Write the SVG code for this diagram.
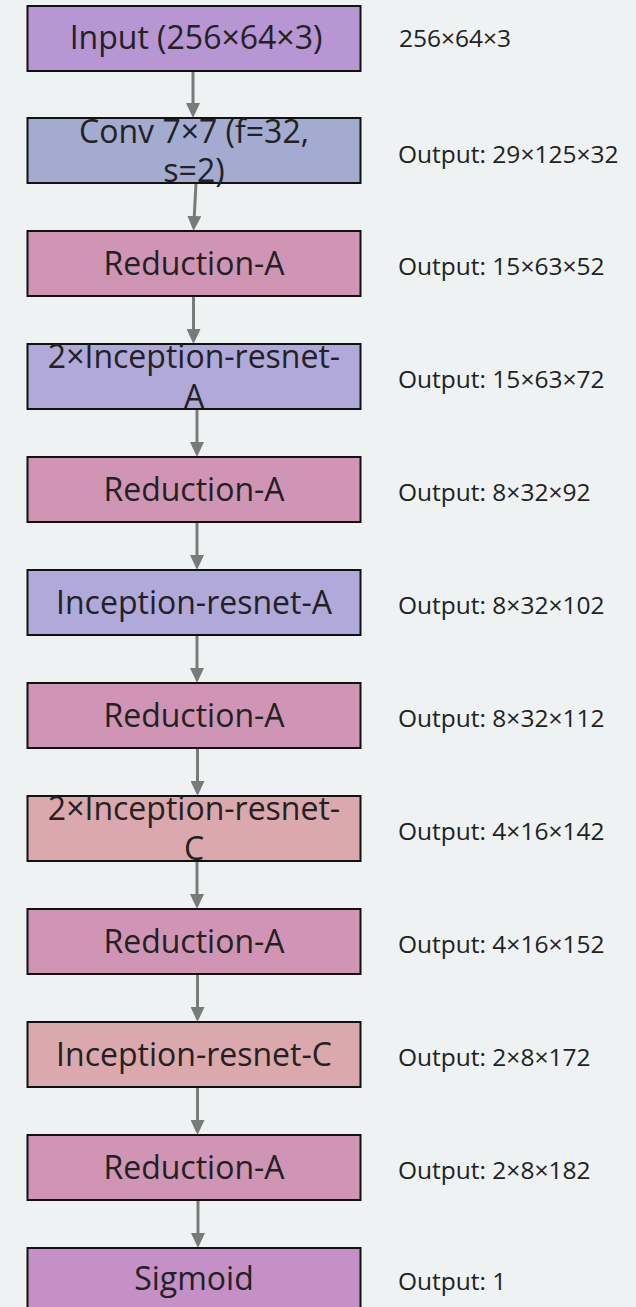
<svg xmlns="http://www.w3.org/2000/svg" width="636" height="1307" viewBox="0 0 636 1307">
<style>
.box{stroke:#111;stroke-width:2}
.t{font-family:"Open Sans",Lato,"Liberation Sans",sans-serif;font-size:32px;fill:#222;text-anchor:middle}
.l{font-family:"Open Sans",Lato,"Liberation Sans",sans-serif;font-size:24.5px;fill:#222}
.c{stroke:#7a7a7a;stroke-width:3;fill:none;marker-end:url(#ah)}
</style>
<defs>
<marker id="ah" markerUnits="userSpaceOnUse" viewBox="0 0 15 14" refX="2" refY="7" markerWidth="15" markerHeight="14" orient="auto">
<path d="M0,0 L15,7 L0,14 Z" fill="#7a7a7a"/>
</marker>
</defs>
<rect width="636" height="1307" fill="#eef2f3"/>
<g id="connectors">
<line class="c" x1="193" y1="71" x2="193" y2="105"/>
<line class="c" x1="196" y1="183" x2="194.2" y2="218"/>
<line class="c" x1="193.5" y1="296" x2="193.5" y2="331"/>
<line class="c" x1="197" y1="409" x2="197" y2="444"/>
<line class="c" x1="197" y1="522" x2="197" y2="557"/>
<line class="c" x1="197" y1="635" x2="197" y2="670"/>
<line class="c" x1="197.5" y1="748" x2="197.5" y2="783"/>
<line class="c" x1="197" y1="861" x2="197" y2="896"/>
<line class="c" x1="197.5" y1="974" x2="197.5" y2="1009"/>
<line class="c" x1="197.5" y1="1087" x2="197.5" y2="1122"/>
<line class="c" x1="198" y1="1200" x2="198" y2="1235"/>
</g>
<g id="n1"><rect class="box" x="27.5" y="6" width="333" height="65" fill="#b895d3"/><text class="t" x="196" y="49">Input (256×64×3)</text><text class="l" x="399" y="47">256×64×3</text></g>
<g id="n2"><rect class="box" x="27.5" y="118" width="333" height="65" fill="#a3abd0"/><text class="t"><tspan x="194" y="143">Conv 7×7 (f=32,</tspan><tspan x="194" y="182">s=2)</tspan></text><text class="l" x="398" y="163">Output: 29×125×32</text></g>
<g id="n3"><rect class="box" x="27.5" y="231" width="333" height="65" fill="#d095b5"/><text class="t" x="194" y="275">Reduction-A</text><text class="l" x="398" y="275">Output: 15×63×52</text></g>
<g id="n4"><rect class="box" x="27.5" y="344" width="333" height="65" fill="#b0a9da"/><text class="t"><tspan x="194" y="368">2×Inception-resnet-</tspan><tspan x="194" y="408">A</tspan></text><text class="l" x="398" y="388">Output: 15×63×72</text></g>
<g id="n5"><rect class="box" x="27.5" y="457" width="333" height="65" fill="#d095b5"/><text class="t" x="194" y="501">Reduction-A</text><text class="l" x="398" y="501">Output: 8×32×92</text></g>
<g id="n6"><rect class="box" x="27.5" y="570" width="333" height="65" fill="#b0a9da"/><text class="t" x="194" y="614">Inception-resnet-A</text><text class="l" x="398" y="614">Output: 8×32×102</text></g>
<g id="n7"><rect class="box" x="27.5" y="683" width="333" height="65" fill="#d095b5"/><text class="t" x="194" y="727">Reduction-A</text><text class="l" x="398" y="727">Output: 8×32×112</text></g>
<g id="n8"><rect class="box" x="27.5" y="796" width="333" height="65" fill="#dba8ad"/><text class="t"><tspan x="194" y="820">2×Inception-resnet-</tspan><tspan x="194" y="860">C</tspan></text><text class="l" x="398" y="840">Output: 4×16×142</text></g>
<g id="n9"><rect class="box" x="27.5" y="909" width="333" height="65" fill="#d095b5"/><text class="t" x="194" y="953">Reduction-A</text><text class="l" x="398" y="953">Output: 4×16×152</text></g>
<g id="n10"><rect class="box" x="27.5" y="1022" width="333" height="65" fill="#dba8ad"/><text class="t" x="194" y="1066">Inception-resnet-C</text><text class="l" x="398" y="1066">Output: 2×8×172</text></g>
<g id="n11"><rect class="box" x="27.5" y="1135" width="333" height="65" fill="#d095b5"/><text class="t" x="194" y="1179">Reduction-A</text><text class="l" x="398" y="1179">Output: 2×8×182</text></g>
<g id="n12"><rect class="box" x="27.5" y="1248" width="333" height="65" fill="#c490c5"/><text class="t" x="194" y="1290">Sigmoid</text><text class="l" x="398" y="1290">Output: 1</text></g>
</svg>
